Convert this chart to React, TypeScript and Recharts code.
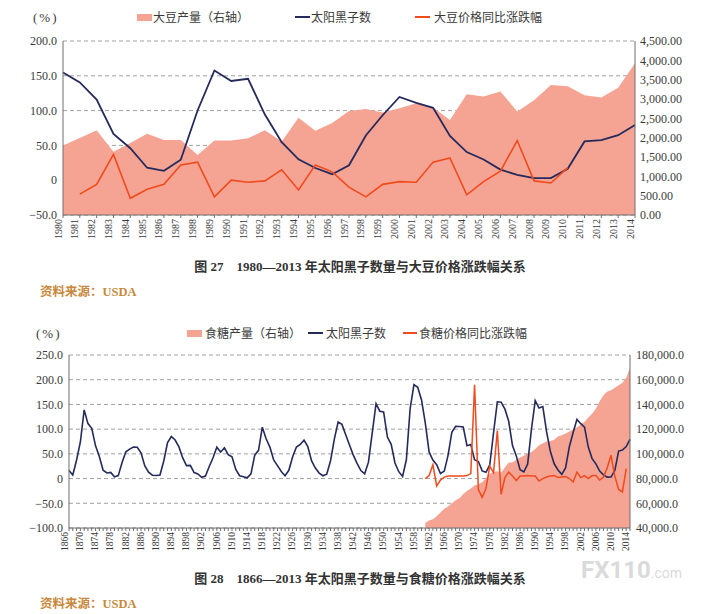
import React from "react";
import {
  Area,
  CartesianGrid,
  ComposedChart,
  Line,
  XAxis,
  YAxis,
} from "recharts";

const SERIF = "'Liberation Serif', 'Noto Sans CJK SC', serif";
const CJK = "'Noto Sans CJK SC', 'Liberation Serif', sans-serif";

const AREA = "#f5a493";
const NAVY = "#252a5c";
const RED = "#f04a1e";
const GRID = "#a0a0a0";
const AXIS = "#6e6e6e";
const TEXT = "#3a3a3a";
const SOURCE = "#c8873a";

// yearly sunspot numbers 1866-2014
const SUNSPOT_FROM = 1866;
const sunspots = [
  16.3, 7.3, 37.6, 74.0,
  139.0, 111.2, 101.6, 66.2, 44.7, 17.0, 11.3, 12.4, 3.4, 6.0,
  32.3, 54.3, 59.7, 63.7, 63.5, 52.2, 25.4, 13.1, 6.8, 6.3,
  7.1, 35.6, 73.0, 85.1, 78.0, 64.0, 41.8, 26.2, 26.7, 12.1,
  9.5, 2.7, 5.0, 24.4, 42.0, 63.5, 53.8, 62.0, 48.5, 43.9,
  18.6, 5.7, 3.6, 1.4, 9.6, 47.4, 57.1, 103.9, 80.6, 63.6,
  37.6, 26.1, 14.2, 5.8, 16.7, 44.3, 63.9, 69.0, 77.8, 64.9,
  35.7, 21.2, 11.1, 5.7, 8.7, 36.1, 79.7, 114.4, 109.6, 88.8,
  67.8, 47.5, 30.6, 16.3, 9.6, 33.2, 92.6, 151.6, 136.3, 134.7,
  83.9, 69.4, 31.5, 13.9, 4.4, 38.0, 141.7, 190.2, 184.8, 159.0,
  112.3, 53.9, 37.6, 27.9, 10.2, 15.1, 47.0, 93.8, 105.9, 105.5,
  104.5, 66.6, 68.9, 38.0, 34.5, 15.5, 12.6, 27.5, 92.5, 155.4,
  154.6, 140.4, 115.9, 66.6, 45.9, 17.9, 13.4, 29.4, 100.2, 157.6,
  142.6, 145.7, 94.3, 54.6, 29.9, 17.5, 8.6, 21.5, 64.3, 93.3,
  119.6, 111.0, 104.0, 63.7, 40.4, 29.8, 15.2, 7.5, 2.9, 3.1,
  16.5, 55.7, 57.6, 64.7, 79.3,
];

// figure 27: soybeans
const soyYears = [
  1980, 1981, 1982, 1983, 1984, 1985, 1986, 1987, 1988, 1989, 1990, 1991,
  1992, 1993, 1994, 1995, 1996, 1997, 1998, 1999, 2000, 2001, 2002, 2003,
  2004, 2005, 2006, 2007, 2008, 2009, 2010, 2011, 2012, 2013, 2014,
];
const soyProduction = [
  1798, 1989, 2190, 1636, 1861, 2099, 1940, 1938, 1549, 1924, 1926, 1987,
  2190, 1900, 2515, 2177, 2380, 2689, 2741, 2654, 2758, 2891, 2780, 2454,
  3124, 3063, 3197, 2677, 2967, 3359, 3329, 3094, 3042, 3290, 3927,
];
const SOY_PRICE_FROM = 1981;
const soyPriceChange = [
  -20, -6, 37, -26, -13, -6, 22, 26, -24, 0, -3, -1, 15, -14, 22, 12, -10,
  -24, -6, -2, -3, 26, 32, -21, -2, 13, 57, -1, -4, 18,
];
const soyLeftTicks = [-50, 0, 50, 100, 150, 200];
const soyRightTicks = [0, 500, 1000, 1500, 2000, 2500, 3000, 3500, 4000, 4500];

// figure 28: sugar
const SUGAR_FROM = 1960;
const sugarProduction = [
  44000, 46000, 47000, 49500, 52500, 55500, 57500, 60000, 62500, 64000,
  67500, 70000, 72000, 74500, 75500, 77000, 80500, 84000, 85500, 86000,
  85000, 89000, 93000, 93000, 95500, 97000, 98500, 100500, 101500, 104000,
  107000, 108500, 110000, 110500, 111500, 114000, 115000, 116500, 118000, 120000,
  121500, 123500, 126000, 129500, 132500, 136500, 142500, 147500, 150500, 151500,
  153500, 155500, 157500, 161500, 169500,
];
const sugarPriceChange = [
  0, 6, 28, -15, -3, 3, 5, 5, 5, 5,
  5, 6, 10, 190, -22, -38, -20, 25, 12, 97,
  -32, 2, 13, 5, -4, 5, 5, 6, 5, 5,
  -5, 0, 3, 5, 6, 2, 3, 4, 0, -7,
  13, 2, 6, 0, 6, 6, -3, 3, 22, 47,
  5, -22, -27, 20,
];
const sugarLeftTicks = [-100, -50, 0, 50, 100, 150, 200, 250];
const sugarRightTicks = [40000, 60000, 80000, 100000, 120000, 140000, 160000, 180000];

const pct = (v: number) => (v === 0 ? "0" : v.toFixed(1).replace("-", "−"));
const grouped = (digits: number) => (v: number) =>
  v.toLocaleString("en-US", {
    minimumFractionDigits: digits,
    maximumFractionDigits: digits,
  });

const pick = (arr: number[], from: number, year: number) => {
  const i = year - from;
  return i >= 0 && i < arr.length ? arr[i] : null;
};

const soyRows = soyYears.map((year, i) => ({
  year,
  production: soyProduction[i],
  sunspots: pick(sunspots, SUNSPOT_FROM, year),
  price: pick(soyPriceChange, SOY_PRICE_FROM, year),
}));

const sugarRows = sunspots.map((s, i) => {
  const year = SUNSPOT_FROM + i;
  return {
    year,
    sunspots: s,
    production: pick(sugarProduction, SUGAR_FROM, year),
    price: pick(sugarPriceChange, SUGAR_FROM, year),
  };
});

function YearTick(props: any) {
  const { x, y, payload, index, shift, every, size } = props;
  if (index % every !== 0) return null;
  const tx = x + shift;
  return (
    <text
      x={tx}
      y={y}
      transform={`rotate(-90 ${tx} ${y})`}
      textAnchor="end"
      dominantBaseline="central"
      fontSize={size}
      fill={TEXT}
      fontFamily={SERIF}
    >
      {payload.value}
    </text>
  );
}

const axisTick = { fontSize: 12, fill: TEXT, fontFamily: SERIF };

function Text({ x, y, size, children, style }: any) {
  return (
    <div
      style={{
        position: "absolute",
        left: x,
        top: y,
        transform: "translateY(-50%)",
        fontSize: size,
        lineHeight: 1,
        whiteSpace: "nowrap",
        color: TEXT,
        ...style,
      }}
    >
      {children}
    </div>
  );
}

function Mark({ x, y, w, h, color }: any) {
  return (
    <div
      style={{
        position: "absolute",
        left: x,
        top: y - h / 2,
        width: w,
        height: h,
        background: color,
      }}
    />
  );
}

function SoybeanChart() {
  return (
    <ComposedChart
      width={724}
      height={250}
      data={soyRows}
      margin={{ top: 41, right: 0, bottom: 0, left: 0 }}
    >
      <CartesianGrid
        yAxisId="left"
        vertical={false}
        stroke={GRID}
        strokeDasharray="4 3"
      />
      <XAxis
        dataKey="year"
        interval={0}
        height={35}
        tickSize={3}
        tickMargin={1}
        axisLine={{ stroke: AXIS }}
        tickLine={{ stroke: AXIS }}
        tick={(p: any) => <YearTick {...p} shift={-5} every={1} size={10} />}
      />
      <YAxis
        yAxisId="left"
        width={63}
        domain={[-50, 200]}
        ticks={soyLeftTicks}
        interval={0}
        tickFormatter={pct}
        tickSize={0}
        tickMargin={6}
        tickLine={false}
        axisLine={{ stroke: AXIS }}
        tick={axisTick}
      />
      <YAxis
        yAxisId="right"
        orientation="right"
        width={89}
        domain={[0, 4500]}
        ticks={soyRightTicks}
        interval={0}
        tickFormatter={grouped(2)}
        tickSize={0}
        tickMargin={5}
        tickLine={false}
        axisLine={{ stroke: AXIS }}
        tick={axisTick}
      />
      <Area
        yAxisId="right"
        type="linear"
        dataKey="production"
        stroke="none"
        fill={AREA}
        fillOpacity={1}
        activeDot={false}
        isAnimationActive={false}
      />
      <Line
        yAxisId="left"
        type="linear"
        dataKey="sunspots"
        stroke={NAVY}
        strokeWidth={1.8}
        dot={false}
        activeDot={false}
        isAnimationActive={false}
      />
      <Line
        yAxisId="left"
        type="linear"
        dataKey="price"
        stroke={RED}
        strokeWidth={1.6}
        dot={false}
        activeDot={false}
        isAnimationActive={false}
      />
    </ComposedChart>
  );
}

function SugarChart() {
  return (
    <ComposedChart
      width={724}
      height={250}
      data={sugarRows}
      margin={{ top: 45, right: 0, bottom: 0, left: 0 }}
    >
      <CartesianGrid
        yAxisId="left"
        vertical={false}
        stroke={GRID}
        strokeDasharray="4 3"
      />
      <XAxis
        dataKey="year"
        interval={0}
        height={32}
        tickSize={3}
        tickMargin={1}
        axisLine={{ stroke: AXIS }}
        tickLine={{ stroke: AXIS }}
        tick={(p: any) => <YearTick {...p} shift={-4} every={4} size={9.5} />}
      />
      <YAxis
        yAxisId="left"
        width={69}
        domain={[-100, 250]}
        ticks={sugarLeftTicks}
        interval={0}
        tickFormatter={pct}
        tickSize={0}
        tickMargin={6}
        tickLine={false}
        axisLine={{ stroke: AXIS }}
        tick={axisTick}
      />
      <YAxis
        yAxisId="right"
        orientation="right"
        width={94}
        domain={[40000, 180000]}
        ticks={sugarRightTicks}
        interval={0}
        tickFormatter={grouped(1)}
        tickSize={0}
        tickMargin={6}
        tickLine={false}
        axisLine={{ stroke: AXIS }}
        tick={axisTick}
      />
      <Area
        yAxisId="right"
        type="linear"
        dataKey="production"
        stroke="none"
        fill={AREA}
        fillOpacity={1}
        activeDot={false}
        isAnimationActive={false}
      />
      <Line
        yAxisId="left"
        type="linear"
        dataKey="sunspots"
        stroke={NAVY}
        strokeWidth={1.6}
        dot={false}
        activeDot={false}
        isAnimationActive={false}
      />
      <Line
        yAxisId="left"
        type="linear"
        dataKey="price"
        stroke={RED}
        strokeWidth={1.5}
        dot={false}
        activeDot={false}
        isAnimationActive={false}
      />
    </ComposedChart>
  );
}

export default function App() {
  const legend = { fontFamily: CJK, fontSize: 12 };
  const caption = {
    left: 0,
    width: 720,
    textAlign: "center" as const,
    fontFamily: SERIF,
    fontWeight: 700,
    color: "#333",
  };
  const source = { fontFamily: SERIF, color: SOURCE, fontWeight: 700 };
  const unit = { fontFamily: SERIF, letterSpacing: 2 };

  return (
    <div
      style={{
        position: "absolute",
        left: 0,
        top: 0,
        width: 724,
        height: 614,
        background: "#fff",
        overflow: "hidden",
        fontFamily: CJK,
      }}
    >
      <div style={{ position: "absolute", left: 0, top: 0 }}>
        <SoybeanChart />
      </div>
      <div style={{ position: "absolute", left: 0, top: 310 }}>
        <SugarChart />
      </div>

      {/* figure 27 legend */}
      <Text x={33} y={17} size={13} style={unit}>(%)</Text>
      <Mark x={137} y={17} w={15} h={7} color={AREA} />
      <Text x={153} y={17} size={12} style={legend}>大豆产量（右轴）</Text>
      <Mark x={295} y={17} w={15} h={2} color={NAVY} />
      <Text x={311} y={17} size={12} style={legend}>太阳黑子数</Text>
      <Mark x={415} y={17} w={15} h={2} color={RED} />
      <Text x={434} y={17} size={12} style={legend}>大豆价格同比涨跌幅</Text>

      <Text y={266} size={13} style={caption}>
        图 27　1980—2013 年太阳黑子数量与大豆价格涨跌幅关系
      </Text>
      <Text x={40} y={292} size={12.5} style={source}>资料来源：USDA</Text>

      {/* figure 28 legend */}
      <Text x={36} y={333} size={13} style={unit}>(%)</Text>
      <Mark x={187} y={333} w={15} h={7} color={AREA} />
      <Text x={205} y={333} size={12} style={legend}>食糖产量（右轴）</Text>
      <Mark x={308} y={333} w={15} h={2} color={NAVY} />
      <Text x={326} y={333} size={12} style={legend}>太阳黑子数</Text>
      <Mark x={403} y={333} w={14} h={2} color={RED} />
      <Text x={419} y={333} size={12} style={legend}>食糖价格同比涨跌幅</Text>

      <Text x={581} y={570} size={24} style={{ color: "#dadada", fontFamily: "Roboto", fontWeight: 700 }}>
        FX110<span style={{ fontSize: 14, fontWeight: 400 }}>.com</span>
      </Text>

      <Text y={578} size={13} style={caption}>
        图 28　1866—2013 年太阳黑子数量与食糖价格涨跌幅关系
      </Text>
      <Text x={40} y={604} size={12.5} style={source}>资料来源：USDA</Text>
    </div>
  );
}
